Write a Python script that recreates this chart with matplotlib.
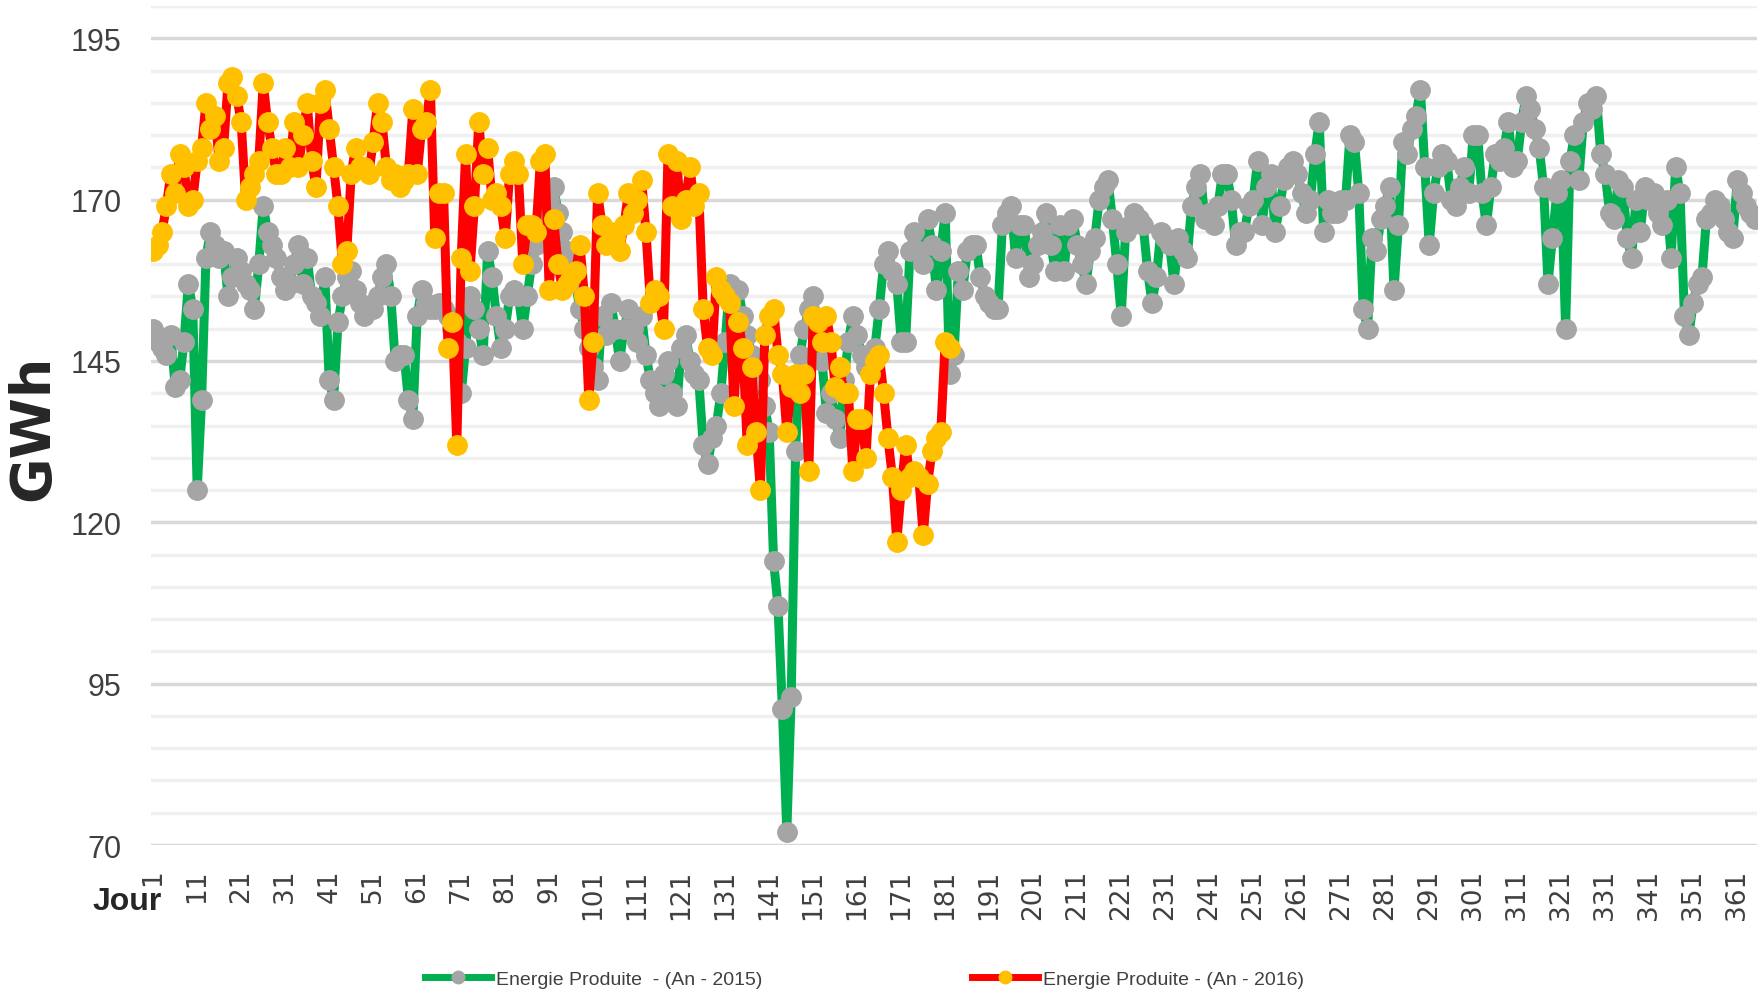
import matplotlib
matplotlib.use('Agg')
import matplotlib.pyplot as plt
from matplotlib.lines import Line2D
from matplotlib.ticker import FixedLocator

# energie produite par jour (GWh)
prod_2015 = [
    150, 148, 147, 146, 149, 141, 142, 148, 157, 153,
    125, 139, 161, 165, 163, 161, 162, 155, 158, 161,
    159, 157, 156, 153, 160, 169, 165, 163, 161, 158,
    156, 157, 160, 163, 157, 161, 155, 154, 152, 158,
    142, 139, 151, 155, 158, 159, 156, 154, 152, 153,
    153, 155, 158, 160, 155, 145, 146, 146, 139, 136,
    152, 156, 154, 153, 153, 154, 153, 152, 150, 148,
    140, 147, 155, 153, 150, 146, 162, 158, 152, 147,
    150, 155, 156, 155, 150, 155, 160, 163, 165, 168,
    170, 172, 168, 165, 162, 160, 157, 153, 150, 147,
    144, 142, 152, 149, 154, 150, 145, 150, 153, 150,
    148, 152, 146, 142, 140, 138, 143, 145, 140, 138,
    147, 149, 145, 143, 142, 132, 129, 133, 135, 140,
    148, 157, 156, 156, 152, 149, 146, 145, 142, 138,
    134, 114, 107, 91, 72, 93, 131, 146, 150, 153,
    155, 150, 145, 137, 140, 136, 133, 142, 148, 152,
    149, 146, 144, 146, 147, 153, 160, 162, 159, 157,
    148, 148, 162, 165, 162, 160, 167, 163, 156, 162,
    168, 143, 146, 159, 156, 162, 163, 163, 158, 155,
    154, 153, 153, 166, 168, 169, 161, 166, 166, 158,
    160, 163, 165, 168, 163, 159, 166, 159, 166, 167,
    163, 160, 157, 162, 164, 170, 172, 173, 167, 160,
    152, 165, 166, 168, 167, 166, 159, 154, 158, 165,
    164, 163, 157, 164, 162, 161, 169, 172, 174, 167,
    168, 166, 169, 174, 174, 170, 163, 165, 165, 169,
    170, 176, 166, 172, 174, 165, 169, 173, 175, 176,
    174, 171, 168, 170, 177, 182, 165, 170, 168, 168,
    170, 170, 180, 179, 171, 153, 150, 164, 162, 167,
    169, 172, 156, 166, 179, 177, 181, 183, 187, 175,
    163, 171, 175, 177, 176, 170, 169, 172, 175, 171,
    180, 180, 171, 166, 172, 177, 176, 178, 182, 175,
    176, 182, 186, 184, 181, 178, 172, 157, 164, 171,
    173, 150, 176, 180, 173, 182, 185, 184, 186, 177,
    174, 168, 167, 173, 172, 164, 161, 170, 165, 172,
    170, 171, 168, 166, 170, 161, 175, 171, 152, 149,
    154, 157, 158, 167, 168, 170, 169, 167, 165, 164,
    173, 171, 169, 168, 167,
]

prod_2016 = [
    162, 163, 165, 169, 174, 171, 177, 175, 169, 170,
    176, 178, 185, 181, 183, 176, 178, 188, 189, 186,
    182, 170, 172, 174, 176, 188, 182, 178, 174, 174,
    178, 175, 182, 175, 180, 185, 176, 172, 185, 187,
    181, 175, 169, 160, 162, 174, 178, 175, 175, 174,
    179, 185, 182, 175, 173, 174, 172, 173, 174, 184,
    174, 181, 182, 187, 164, 171, 171, 147, 151, 132,
    161, 177, 159, 169, 182, 174, 178, 170, 171, 169,
    164, 174, 176, 174, 160, 166, 166, 165, 176, 177,
    156, 167, 160, 156, 157, 158, 159, 163, 155, 139,
    148, 171, 166, 163, 165, 164, 162, 166, 171, 168,
    170, 173, 165, 154, 156, 155, 150, 177, 169, 176,
    167, 170, 175, 169, 171, 153, 147, 146, 158, 156,
    155, 154, 138, 151, 147, 132, 144, 134, 125, 149,
    152, 153, 146, 143, 134, 141, 143, 140, 143, 128,
    152, 151, 148, 152, 148, 141, 144, 140, 140, 128,
    136, 136, 130, 143, 145, 146, 140, 133, 127, 117,
    125, 132, 127, 128, 127, 118, 126, 131, 133, 134,
    148, 147,
]

jours_2015 = list(range(1, len(prod_2015) + 1))
jours_2016 = list(range(1, len(prod_2016) + 1))
ticks_jour = list(range(1, 366, 10))
ticks_gwh = [70, 95, 120, 145, 170, 195]

label_2015 = 'Energie Produite  - (An - 2015)'
label_2016 = 'Energie Produite - (An - 2016)'

narrow = ['Liberation Sans', 'DejaVu Sans']

fig = plt.figure(figsize=(17.64, 9.95), dpi=100)
ax = fig.add_axes([151 / 1764, 1 - 846 / 995, (1757 - 151) / 1764, (846 - 7) / 995])

ax.plot(jours_2015, prod_2015, color='#00B050', lw=6.5, marker='o',
        ms=14, mfc='#A5A5A5', mec='#A5A5A5', solid_joinstyle='round', zorder=3)
ax.plot(jours_2016, prod_2016, color='#FF0000', lw=6.5, marker='o',
        ms=14, mfc='#FFC000', mec='#FFC000', solid_joinstyle='round', zorder=4)

ax.set_xlim(0.5, 365.5)
ax.set_ylim(70, 200)
ax.yaxis.set_major_locator(FixedLocator(ticks_gwh))
ax.yaxis.set_minor_locator(FixedLocator(list(range(70, 201, 5))))
ax.set_xticks(ticks_jour)
ax.set_xticklabels([str(t) for t in ticks_jour], rotation=90, fontsize=19,
                   color='#404040', va='top')
ax.set_yticklabels([str(t) for t in ticks_gwh], fontsize=22, color='#404040',
                   family=narrow)

ax.grid(which='minor', axis='y', color='#F0F0F0', lw=2.5)
ax.grid(which='major', axis='y', color='#D9D9D9', lw=2.5)
ax.set_axisbelow(True)
for s in ax.spines.values():
    s.set_visible(False)
ax.tick_params(axis='both', which='both', length=0)
ax.tick_params(axis='x', pad=17)
ax.tick_params(axis='y', pad=21)

fig.text(33 / 1764, 1 - 428 / 995, 'GWh', rotation=90, fontsize=40,
         fontweight='bold', ha='center', va='center', color='#262626')
fig.text(93 / 1764, 1 - 902 / 995, 'Jour', fontsize=23, fontweight='bold',
         ha='left', va='center', color='#262626', family=narrow)

handles = [
    Line2D([0], [0], color='#00B050', lw=5, marker='o', ms=9,
           mfc='#A5A5A5', mec='#A5A5A5'),
    Line2D([0], [0], color='#FF0000', lw=5, marker='o', ms=9,
           mfc='#FFC000', mec='#FFC000'),
]
leg = fig.legend(handles, [label_2015, label_2016], loc='center',
                 bbox_to_anchor=(0.49, 1 - 980 / 995), ncol=2, frameon=False,
                 handlelength=3.4, columnspacing=10.8, handletextpad=0.25,
                 prop={'family': narrow, 'size': 14})
for t in leg.get_texts():
    t.set_color('#404040')

fig.savefig('out.png', dpi=100)
